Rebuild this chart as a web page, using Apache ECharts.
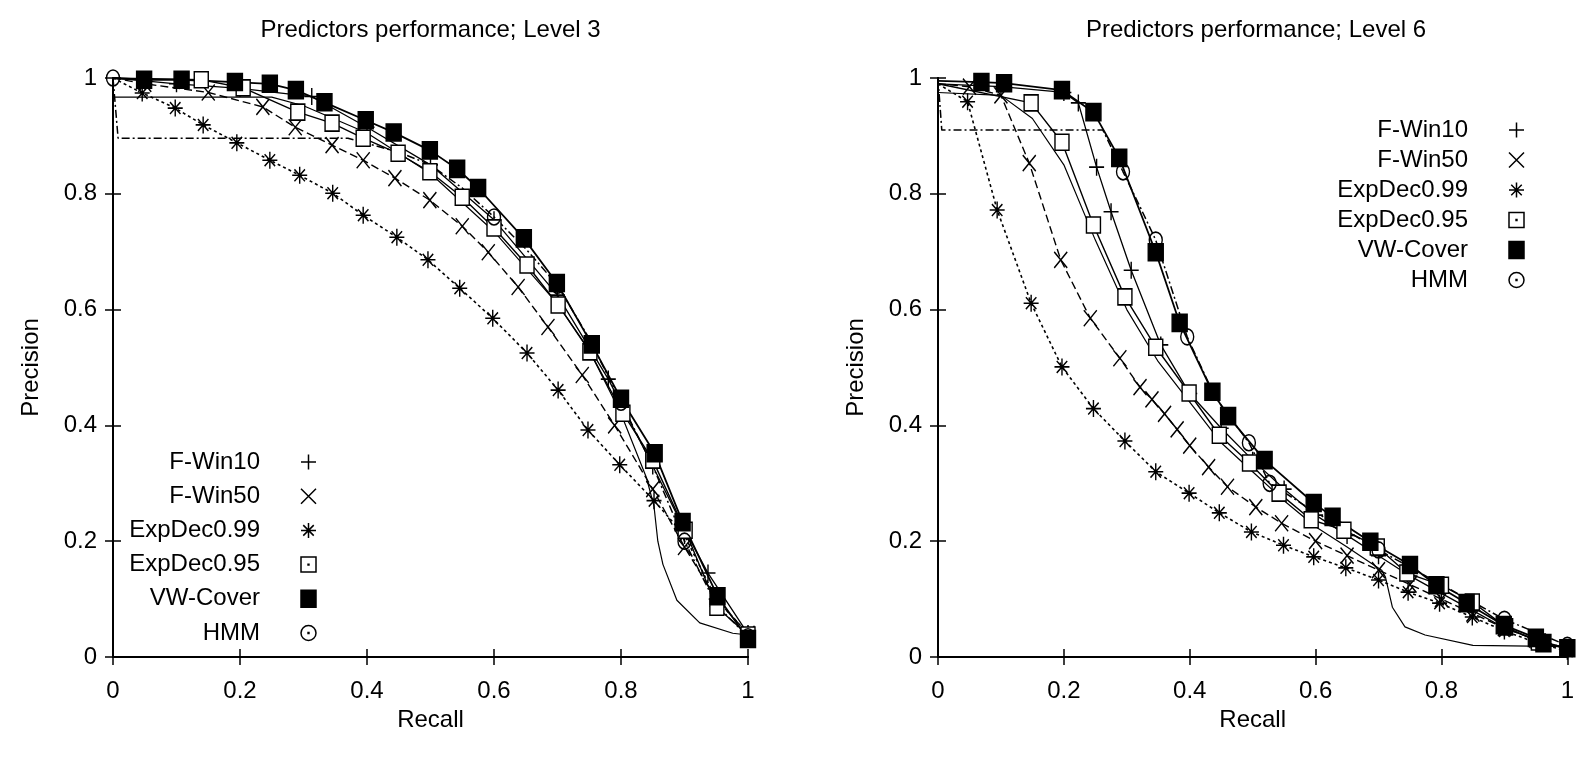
<!DOCTYPE html>
<html>
<head>
<meta charset="utf-8">
<script src="https://cdn.jsdelivr.net/npm/echarts@6/dist/echarts.min.js"></script>
<style>
  html, body { margin: 0; background: #fff; }
  #chart { width: 1577px; height: 761px; }
</style>
</head>
<body>
<div id="chart"></div>
<script>
// ── Data ────────────────────────────────────────────────────────────────
const methods = ['F-Win10', 'F-Win50', 'ExpDec0.99', 'ExpDec0.95', 'VW-Cover', 'HMM'];
const titles = ['Predictors performance; Level 3', 'Predictors performance; Level 6'];

// Level 3 — [recall, precision]
const fWin10L3 = [[0,1],[0.05,0.995],[0.1,0.99],[0.2,0.982],[0.313,0.968],[0.4,0.915],[0.5,0.85],[0.6,0.755],[0.7,0.625],[0.78,0.48],[0.85,0.33],[0.9,0.22],[0.937,0.145],[1,0.04]];
const fWin50L3 = [[0,1],[0.05,0.99],[0.15,0.975],[0.236,0.95],[0.287,0.915],[0.345,0.884],[0.394,0.858],[0.444,0.827],[0.499,0.789],[0.55,0.744],[0.591,0.699],[0.638,0.639],[0.685,0.57],[0.739,0.487],[0.79,0.4],[0.85,0.29],[0.9,0.19],[0.95,0.1],[1,0.04]];
const expDec99L3 = [[0,1],[0.046,0.974],[0.098,0.948],[0.142,0.919],[0.195,0.888],[0.247,0.858],[0.294,0.832],[0.346,0.801],[0.394,0.763],[0.447,0.725],[0.496,0.686],[0.546,0.637],[0.598,0.585],[0.652,0.525],[0.701,0.461],[0.748,0.392],[0.798,0.332],[0.852,0.27],[0.9,0.21],[0.95,0.1],[1,0.04]];
const expDec95L3 = [[0,1],[0.139,0.997],[0.205,0.983],[0.291,0.941],[0.345,0.922],[0.394,0.896],[0.449,0.87],[0.499,0.838],[0.55,0.794],[0.6,0.741],[0.652,0.677],[0.701,0.608],[0.751,0.527],[0.803,0.421],[0.85,0.34],[0.901,0.219],[0.951,0.086],[1,0.038]];
const vwCoverL3 = [[0,1],[0.049,0.997],[0.108,0.997],[0.192,0.993],[0.247,0.99],[0.288,0.979],[0.333,0.958],[0.398,0.927],[0.442,0.906],[0.499,0.875],[0.542,0.843],[0.575,0.81],[0.647,0.723],[0.699,0.646],[0.754,0.54],[0.8,0.446],[0.853,0.352],[0.897,0.233],[0.952,0.105],[1,0.031]];
const hmmLineL3 = [[0,1],[0.008,0.896],[0.37,0.896],[0.45,0.872],[0.5,0.85],[0.55,0.81],[0.6,0.76],[0.65,0.705],[0.7,0.642],[0.75,0.55],[0.8,0.44],[0.85,0.33],[0.9,0.2],[0.95,0.09],[1,0.035]];
const hmmMarksL3 = [[0,1],[0.6,0.76],[0.7,0.642],[0.8,0.44],[0.9,0.2],[1,0.035]];
const extraL3 = [[0,0.967],[0.25,0.967],[0.3,0.952],[0.4,0.905],[0.5,0.835],[0.6,0.735],[0.7,0.61],[0.75,0.53],[0.8,0.42],[0.84,0.31],[0.852,0.26],[0.858,0.2],[0.866,0.16],[0.888,0.098],[0.924,0.059],[0.976,0.041],[1,0.038]];

// Level 6 — [recall, precision]
const fWin10L6 = [[0,0.99],[0.1,0.985],[0.2,0.975],[0.223,0.957],[0.252,0.846],[0.275,0.769],[0.307,0.668],[0.354,0.539],[0.4,0.455],[0.45,0.395],[0.5,0.34],[0.55,0.29],[0.6,0.245],[0.65,0.21],[0.7,0.175],[0.75,0.14],[0.8,0.11],[0.85,0.08],[0.9,0.05],[0.95,0.03],[1,0.015]];
const fWin50L6 = [[0,0.99],[0.05,0.985],[0.1,0.97],[0.145,0.853],[0.195,0.686],[0.242,0.585],[0.289,0.516],[0.321,0.466],[0.34,0.445],[0.36,0.42],[0.38,0.393],[0.4,0.365],[0.43,0.328],[0.46,0.294],[0.505,0.259],[0.546,0.231],[0.6,0.2],[0.65,0.175],[0.7,0.15],[0.75,0.125],[0.8,0.1],[0.85,0.075],[0.9,0.05],[0.95,0.03],[1,0.015]];
const expDec99L6 = [[0,0.99],[0.047,0.959],[0.094,0.772],[0.148,0.611],[0.197,0.501],[0.247,0.429],[0.297,0.373],[0.346,0.32],[0.399,0.283],[0.447,0.249],[0.498,0.216],[0.549,0.193],[0.597,0.173],[0.648,0.154],[0.7,0.133],[0.747,0.112],[0.797,0.093],[0.849,0.069],[0.9,0.045],[0.95,0.025],[1,0.01]];
const expDec95L6 = [[0,0.99],[0.148,0.957],[0.197,0.889],[0.247,0.746],[0.297,0.622],[0.346,0.535],[0.399,0.456],[0.447,0.383],[0.495,0.335],[0.542,0.283],[0.593,0.237],[0.645,0.219],[0.698,0.19],[0.745,0.145],[0.8,0.124],[0.849,0.095],[0.902,0.052],[0.954,0.026],[1,0.015]];
const vwCoverL6 = [[0,0.995],[0.069,0.993],[0.105,0.991],[0.197,0.979],[0.247,0.941],[0.288,0.862],[0.346,0.699],[0.384,0.577],[0.436,0.458],[0.461,0.416],[0.519,0.34],[0.597,0.266],[0.627,0.242],[0.687,0.199],[0.75,0.159],[0.792,0.124],[0.84,0.093],[0.899,0.055],[0.95,0.033],[0.962,0.024],[1,0.015]];
const hmmLineL6 = [[0,1],[0.006,0.91],[0.262,0.91],[0.294,0.838],[0.32,0.78],[0.346,0.72],[0.37,0.64],[0.396,0.553],[0.44,0.45],[0.494,0.37],[0.527,0.3],[0.6,0.25],[0.7,0.185],[0.8,0.125],[0.9,0.065],[1,0.02]];
const hmmMarksL6 = [[0.294,0.838],[0.346,0.72],[0.396,0.553],[0.494,0.37],[0.527,0.3],[0.7,0.185],[0.9,0.065],[1,0.02]];
const extraL6 = [[0,0.975],[0.1,0.97],[0.15,0.93],[0.2,0.85],[0.25,0.72],[0.3,0.6],[0.35,0.51],[0.4,0.44],[0.45,0.37],[0.5,0.32],[0.55,0.27],[0.6,0.225],[0.65,0.19],[0.705,0.15],[0.711,0.138],[0.722,0.086],[0.742,0.052],[0.774,0.038],[0.85,0.02],[1,0.018]];

const panels = [
  { curves: [fWin10L3, fWin50L3, expDec99L3, expDec95L3, vwCoverL3, hmmLineL3], marks: hmmMarksL3, extra: extraL3 },
  { curves: [fWin10L6, fWin50L6, expDec99L6, expDec95L6, vwCoverL6, hmmLineL6], marks: hmmMarksL6, extra: extraL6 },
];

// ── Styles ──────────────────────────────────────────────────────────────
const FONT = "'Liberation Sans', Arial, sans-serif";
const FS = 24;
const INK = '#000';
const SYM_PLUS = 'path://M5,0L5,10M0,5L10,5';
const SYM_CROSS = 'path://M0,0L10,10M10,0L0,10';
const SYM_STAR = 'path://M5,0L5,10M0,5L10,5M1.5,1.5L8.5,8.5M8.5,1.5L1.5,8.5';
// legend-only variants with the centre dot that gnuplot draws in the key
const KEY_BOX = 'path://M0,0L10,0L10,10L0,10ZM4.7,4.7L5.3,4.7L5.3,5.3L4.7,5.3Z';
const KEY_RING = 'path://M5,0A5,5 0 1,1 5,10A5,5 0 1,1 5,0ZM4.7,4.7L5.3,4.7L5.3,5.3L4.7,5.3Z';
const markStyle = [
  { symbol: SYM_PLUS,  key: SYM_PLUS,  size: [15, 17], fill: 'transparent', dash: 'solid',      width: 1.3 },
  { symbol: SYM_CROSS, key: SYM_CROSS, size: [13, 16], fill: 'transparent', dash: [8, 4],       width: 1.4 },
  { symbol: SYM_STAR,  key: SYM_STAR,  size: [15, 17], fill: 'transparent', dash: [3, 3],       width: 1.6 },
  { symbol: 'rect',    key: KEY_BOX,   size: [14, 16], fill: '#fff',        dash: 'solid',      width: 1.4 },
  { symbol: 'rect',    key: 'rect',    size: [15, 17], fill: INK,           dash: 'solid',      width: 1.8 },
  { symbol: 'circle',  key: KEY_RING,  size: [13, 16], fill: 'transparent', dash: [8, 3, 2, 3], width: 1.5 },
];
const grids = [
  { left: 113, top: 78, width: 635, height: 579 },
  { left: 938, top: 78, width: 636, height: 579 },
];

// ── Axes ────────────────────────────────────────────────────────────────
const tickStyle = { show: true, inside: true, length: 8, lineStyle: { color: INK, width: 1.5 } };
const lineStyle = { show: true, lineStyle: { color: INK, width: 2 } };
const labelStyle = { fontFamily: FONT, fontSize: FS, color: INK };
const xAxis = [], yAxis = [];
grids.forEach((g, i) => {
  xAxis.push({ gridIndex: i, type: 'value', min: 0, max: 1, interval: 0.2, position: 'bottom',
    axisLine: lineStyle, axisTick: tickStyle, splitLine: { show: false },
    axisLabel: { ...labelStyle, margin: 22 },
    name: 'Recall', nameLocation: 'middle', nameGap: 48,
    nameTextStyle: { ...labelStyle, verticalAlign: 'top' } });
  xAxis.push({ gridIndex: i, type: 'value', min: 0, max: 1, interval: 0.2, position: 'top',
    axisLine: lineStyle, axisTick: tickStyle, splitLine: { show: false }, axisLabel: { show: false } });
  yAxis.push({ gridIndex: i, type: 'value', min: 0, max: 1, interval: 0.2, position: 'left',
    axisLine: lineStyle, axisTick: tickStyle, splitLine: { show: false },
    axisLabel: { ...labelStyle, margin: 16 },
    name: 'Precision', nameLocation: 'middle', nameGap: 70, nameRotate: 90,
    nameTextStyle: labelStyle });
  yAxis.push({ gridIndex: i, type: 'value', min: 0, max: 1, interval: 0.2, position: 'right',
    axisLine: lineStyle, axisTick: tickStyle, splitLine: { show: false }, axisLabel: { show: false } });
});

// ── Series ──────────────────────────────────────────────────────────────
const series = [];
panels.forEach((p, i) => {
  const ax = { xAxisIndex: 2 * i, yAxisIndex: 2 * i };
  series.push({ ...ax, type: 'line', name: 'extra' + i, data: p.extra, symbol: 'none', silent: true,
    lineStyle: { color: INK, width: 1.2 } });
  p.curves.forEach((c, k) => {
    const s = markStyle[k];
    series.push({ ...ax, type: 'line', name: methods[k] + ' line', data: c, symbol: 'none', silent: true,
      lineStyle: { color: INK, width: s.width, type: s.dash } });
    series.push({ ...ax, type: 'scatter', name: methods[k], silent: true, z: 3,
      data: k === 5 ? p.marks : c.slice(1),
      symbol: s.symbol, symbolSize: s.size,
      itemStyle: { color: s.fill, borderColor: INK, borderWidth: 1.5, opacity: 1 } });
  });
});

// ── Legends (one per panel, text right-aligned, symbol on the right) ───
function makeLegend(left, top, itemGap) {
  return {
    orient: 'vertical', left, top, align: 'right', itemGap, itemWidth: 15, itemHeight: 17,
    selectedMode: false,
    data: methods.map((m, k) => ({ name: m, icon: markStyle[k].key,
      itemStyle: { color: markStyle[k].fill, borderColor: INK, borderWidth: 1.5 } })),
    formatter: n => '{n|' + n + '}{s|}',
    textStyle: { rich: {
      n: { width: 160, align: 'right', fontFamily: FONT, fontSize: FS, lineHeight: 28, color: INK },
      s: { width: 36 } } },
  };
}

const chart = echarts.init(document.getElementById('chart'), null, { renderer: 'canvas' });
chart.setOption({
  animation: false,
  backgroundColor: '#fff',
  grid: grids,
  xAxis, yAxis, series,
  legend: [makeLegend(95, 445, 10.2), makeLegend(1303, 113, 6)],
  graphic: titles.map((t, i) => ({
    type: 'text', x: grids[i].left + grids[i].width / 2, y: 30,
    style: { text: t, align: 'center', verticalAlign: 'middle', font: FS + 'px ' + FONT, fill: INK },
  })),
});
</script>
</body>
</html>
